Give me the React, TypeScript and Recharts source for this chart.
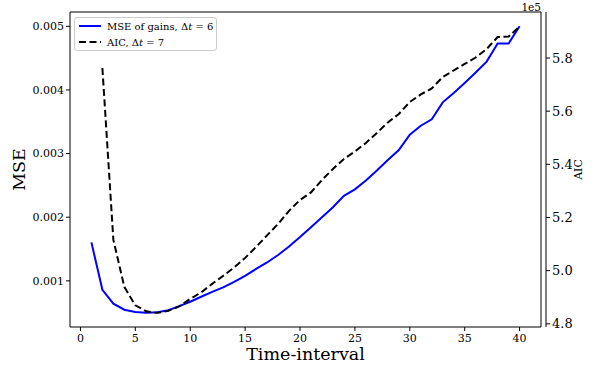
import React from 'react';
import { LineChart, Line, XAxis, YAxis, Legend, ReferenceLine } from 'recharts';

const timeIntervals = [1,2,3,4,5,6,7,8,9,10,11,12,13,14,15,16,17,18,19,20,21,22,23,24,25,26,27,28,29,30,31,32,33,34,35,36,37,38,39,40];
const mseValues = [0.001605,0.000859,0.000641,0.000547,0.000511,0.0005,0.000508,0.000539,0.000602,0.000672,0.00075,0.000828,0.000898,0.000984,0.001078,0.001188,0.001289,0.001406,0.001539,0.001688,0.001844,0.002,0.002156,0.002336,0.002438,0.002578,0.002734,0.002898,0.003055,0.003297,0.003438,0.003539,0.003805,0.003953,0.00411,0.004273,0.004445,0.00473,0.00473,0.005];
const aicValues: (number | null)[] = [null,576240,511568,493896,486940,484684,484120,484872,486564,489384,491828,495024,498032,501228,504800,508936,513260,517584,522472,526608,529428,534128,538264,542024,544844,548040,551800,555748,558944,563456,566276,568532,572856,575300,577744,580188,583384,587896,588084,591844];

const xTicks = [0,5,10,15,20,25,30,35,40];
const mseTicks = [0.001,0.002,0.003,0.004,0.005];
const aicTicks = [480000,500000,520000,540000,560000,580000];

const X_DOMAIN: [number, number] = [-0.95, 41.95];
const MSE_DOMAIN: [number, number] = [0.000275, 0.005225];
const AIC_DOMAIN: [number, number] = [478800, 597300];

const data = timeIntervals.map((x, i) => ({ x, mse: mseValues[i], aic: aicValues[i] }));

const FONT = "'DejaVu Serif', serif";

const LegendBox = () => (
  <div style={{
    boxSizing: 'border-box', width: 143, height: 34, border: '1px solid #cccccc', borderRadius: 3,
    background: 'rgba(255,255,255,0.8)', fontFamily: FONT, fontSize: 10, color: '#000', whiteSpace: 'nowrap',
  }}>
    <div style={{ display: 'flex', alignItems: 'center', height: 16 }}>
      <svg width={24} height={10} style={{ marginLeft: 3, marginRight: 5, flex: 'none' }}>
        <line x1={1} y1={5} x2={23} y2={5} stroke="#0000ff" strokeWidth={2} />
      </svg>
      <span>MSE of gains, Δ<i>t</i> = 6</span>
    </div>
    <div style={{ display: 'flex', alignItems: 'center', height: 16 }}>
      <svg width={24} height={10} style={{ marginLeft: 3, marginRight: 5, flex: 'none' }}>
        <line x1={1} y1={5} x2={23} y2={5} stroke="#000" strokeWidth={2} strokeDasharray="7 3.5" />
      </svg>
      <span>AIC, Δ<i>t</i> = 7</span>
    </div>
  </div>
);

export default function App() {
  return (
    <div style={{ position: 'absolute', left: 0, top: 0, width: 599, height: 373, background: '#fff' }}>
      <LineChart width={599} height={373} data={data} margin={{ top: 12, right: 0, bottom: 0, left: 0 }}>
        <XAxis
          xAxisId="main" dataKey="x" type="number" domain={X_DOMAIN} ticks={xTicks}
          allowDataOverflow height={46} stroke="#000" tickSize={4} tickMargin={3}
          tick={{ fill: '#000', fontFamily: FONT, fontSize: 11 }}
          label={(props: any) => {
            const vb = props.viewBox;
            return (
              <text x={vb.x + vb.width / 2} y={vb.y + 33} textAnchor="middle" fontFamily={FONT} fontSize={17.5} fill="#000">
                Time-interval
              </text>
            );
          }}
        />
        <YAxis
          yAxisId="mse" orientation="left" type="number" domain={MSE_DOMAIN} ticks={mseTicks}
          allowDataOverflow width={70} stroke="#000" tickSize={4} tickMargin={2}
          tickFormatter={(v: number) => v.toFixed(3)}
          tick={{ fill: '#000', fontFamily: FONT, fontSize: 11 }}
          label={(props: any) => {
            const vb = props.viewBox;
            const cy = vb.y + vb.height / 2;
            return (
              <text x={25} y={cy} transform={`rotate(-90, 25, ${cy})`} textAnchor="middle" fontFamily={FONT} fontSize={17.5} fill="#000">
                MSE
              </text>
            );
          }}
        />
        <YAxis
          yAxisId="a_frame" orientation="right" type="number" domain={[0, 1]} width={5}
          tick={false} tickLine={false} stroke="#000"
          label={(props: any) => {
            const vb = props.viewBox;
            return (
              <text x={vb.x} y={vb.y - 1} textAnchor="end" fontFamily={FONT} fontSize={10.5} fill="#000">
                1e5
              </text>
            );
          }}
        />
        <YAxis
          yAxisId="b_aic" orientation="right" type="number" domain={AIC_DOMAIN} ticks={aicTicks}
          allowDataOverflow width={53} stroke="#000" tickSize={4} tickMargin={2}
          tickFormatter={(v: number) => (v / 1e5).toFixed(1)}
          tick={{ fill: '#000', fontFamily: FONT, fontSize: 13 }}
          label={(props: any) => {
            const vb = props.viewBox;
            const cy = vb.y + vb.height / 2;
            return (
              <text x={582} y={cy} transform={`rotate(-90, 582, ${cy})`} textAnchor="middle" fontFamily={FONT} fontSize={11} fill="#000">
                AIC
              </text>
            );
          }}
        />
        <ReferenceLine xAxisId="main" yAxisId="mse" y={MSE_DOMAIN[1]} stroke="#000" strokeWidth={1} ifOverflow="visible" />
        <Legend
          layout="vertical" align="center" verticalAlign="middle"
          wrapperStyle={{ position: 'absolute', left: 74, top: 17, width: 143, height: 34 }}
          content={() => <LegendBox />}
        />
        <Line xAxisId="main" yAxisId="mse" type="linear" dataKey="mse" stroke="#0000ff" strokeWidth={2} dot={false} isAnimationActive={false} />
        <Line xAxisId="main" yAxisId="b_aic" type="linear" dataKey="aic" stroke="#000" strokeWidth={2} strokeDasharray="7 3.5" dot={false} isAnimationActive={false} />
      </LineChart>
    </div>
  );
}
